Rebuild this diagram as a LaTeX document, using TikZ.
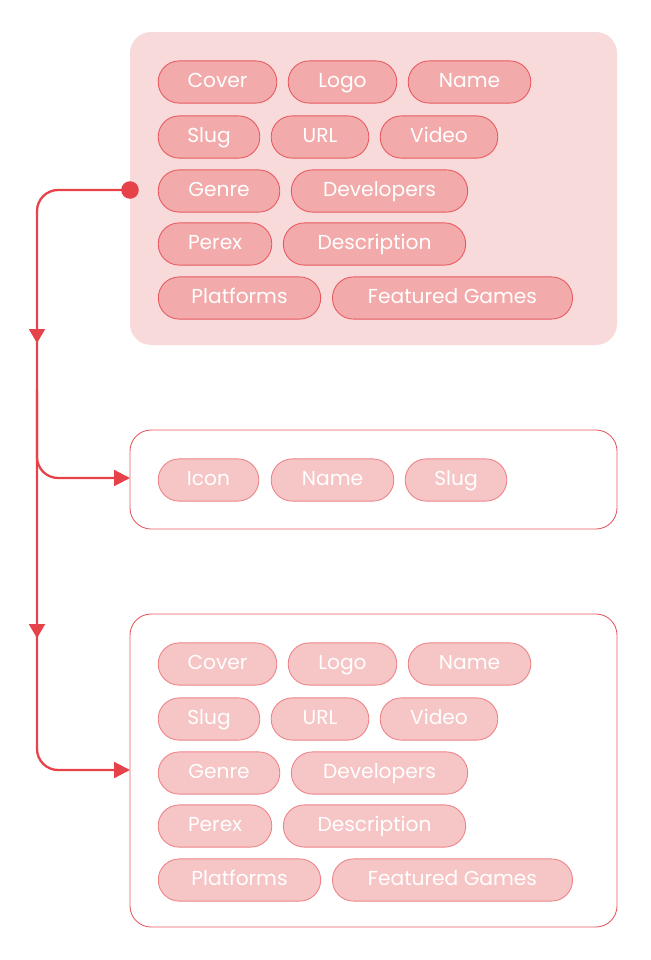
\documentclass[tikz,border=0pt]{standalone}
\usepackage{fontspec}
\setmainfont{Poppins}
\usetikzlibrary{arrows.meta,decorations.markings}
\definecolor{wirered}{HTML}{E5424A}
\definecolor{boxfill}{HTML}{F8DADA}
\definecolor{pilldark}{HTML}{F2AAAB}
\definecolor{pilllight}{HTML}{F6C5C6}
\definecolor{pillline}{HTML}{E85A60}
\tikzset{
  pill/.style={draw=pillline, line width=0.5pt, rounded corners=11.9pt,
    inner sep=0pt, minimum height=24pt, text height=8.5pt, text depth=2.5pt,
    text=white, font=\fontsize{11.5}{12}\selectfont},
  darkpill/.style={pill, fill=pilldark},
  lightpill/.style={pill, fill=pilllight, draw=pillline!75},
  panel/.style={rounded corners=12pt},
  wire/.style={draw=wirered, line width=1.3pt, rounded corners=12pt},
  midarrow/.style={postaction={decorate}, decoration={markings,
    mark=at position #1 with {\arrow{Triangle[length=8pt,width=9pt]}}}}
}
\begin{document}
\begin{tikzpicture}[x=0.02cm,y=-0.02cm]
  \useasboundingbox (0,0) rectangle (650,960);
  % panels
  \fill[boxfill, panel] (130,32) rectangle (617,345);
  \draw[pillline, line width=0.5pt, panel] (130,430) rectangle (617,529);
  \draw[pillline, line width=0.5pt, panel] (130,614) rectangle (617,927);
  % game fields, full and light
  \foreach \name/\l/\r/\y/\txt in {cov/158/277/82/Cover, logo/288/397/82/Logo, nam/408/531/82/Name,
      slug/158/260/137/Slug, url/271/369/137/URL, vid/380/498/137/Video,
      gen/158/280/191/Genre, dev/291/468/191/Developers,
      per/158/272/244/Perex, desc/283/466/244/Description,
      plat/158/321/298/Platforms, feat/332/573/298/Featured Games}{
    \node[darkpill, minimum width={(\r-\l)*0.567pt}] (a\name) at ({(\l+\r)/2},\y) {\txt};
    \node[lightpill, minimum width={(\r-\l)*0.567pt}] (b\name) at ({(\l+\r)/2},\y+582) {\txt};
  }
  % genre fields
  \foreach \name/\l/\r/\txt in {icon/158/259/Icon, nam/271/394/Name, slug/405/507/Slug}{
    \node[lightpill, minimum width={(\r-\l)*0.567pt}] (g\name) at ({(\l+\r)/2},480) {\txt};
  }
  % connectors
  \coordinate (src) at (130,190);
  \coordinate (tomid) at (130,478);
  \coordinate (tobot) at (130,770);
  \fill[wirered] (src) circle (5pt);
  \draw[wire, midarrow=0.52, -{Triangle[length=9pt,width=9pt]}] (src) -| (37,400) |- (tomid);
  \draw[wire, midarrow=0.535, -{Triangle[length=9pt,width=9pt]}] (37,390) |- (tobot);
\end{tikzpicture}
\end{document}
